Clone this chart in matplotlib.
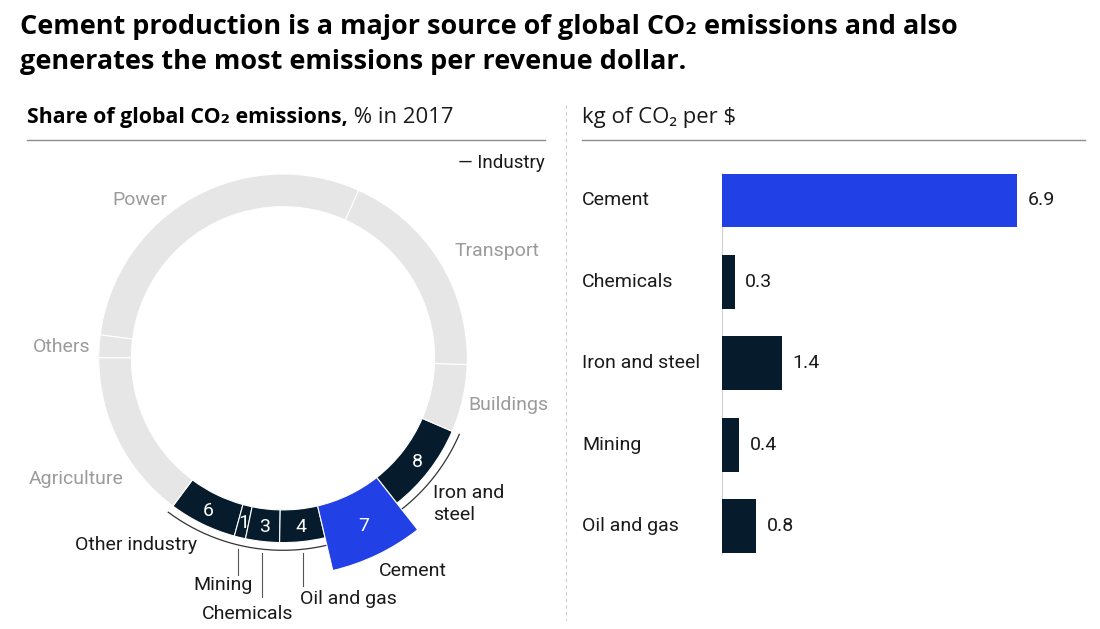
import numpy as np
import matplotlib
matplotlib.use("Agg")
import matplotlib.pyplot as plt
from matplotlib import transforms

plt.rcParams['font.family'] = ['Roboto', 'DejaVu Sans']
HEAD = ['Open Sans', 'DejaVu Sans']

# ---- data ----
industry = ["Other industry", "Mining", "Chemicals", "Oil and gas", "Cement", "Iron and steel"]
industry_share = [6, 1, 3, 4, 7, 8]
sectors = ["Buildings", "Transport", "Power", "Others", "Agriculture"]
sector_share = [6, 19, 30, 2, 15]

bar_cats = ["Cement", "Chemicals", "Iron and steel", "Mining", "Oil and gas"]
bar_vals = [6.9, 0.3, 1.4, 0.4, 0.8]

NAVY = "#061c2c"
BLUE = "#2140e6"
GREY = "#e6e6e6"
LABEL_GREY = "#9b9b9b"
INK = "#1a1a1a"

W, H = 1100, 629
fig = plt.figure(figsize=(W / 100, H / 100), dpi=100)
renderer = fig.canvas.get_renderer()


def px(x, y):
    return x / W, 1 - y / H


def fit(t, width_px):
    # scale a text so that it spans the same width as in the reference
    w = t.get_window_extent(renderer).width
    t.set_fontsize(t.get_fontsize() * width_px / w)
    return t.get_fontsize()


# ---- titles ----
t1 = fig.text(*px(20, 27), "Cement production is a major source of global CO\u2082 emissions and also",
              fontsize=18, fontweight="bold", va="center", ha="left", family=HEAD)
size = fit(t1, 938)
fig.text(*px(20, 62), "generates the most emissions per revenue dollar.",
         fontsize=size, fontweight="bold", va="center", ha="left", family=HEAD)

h1 = fig.text(*px(27, 118), "Share of global CO\u2082 emissions,", fontsize=13,
              fontweight="bold", va="center", ha="left", family=HEAD)
fit(h1, 318)
h2 = fig.text(*px(582, 118), "kg of CO\u2082 per $", fontsize=13, va="center", ha="left",
              family=HEAD, color=INK)
hsize = fit(h2, 153)

fig.add_artist(plt.Line2D([27 / W, 545 / W], [1 - 140 / H] * 2, color="#8c8c8c", lw=1))
fig.add_artist(plt.Line2D([582 / W, 1085 / W], [1 - 140 / H] * 2, color="#8c8c8c", lw=1))
fig.add_artist(plt.Line2D([566 / W] * 2, [1 - 105 / H, 1 - 620 / H], color="#cccccc",
                          lw=0.8, ls=(0, (3, 3))))

# ---- donut ----
R = 184.3
lim = 1.3
side = 2 * lim * R
cx, cy = 283, 358.3
ax = fig.add_axes([(cx - side / 2) / W, (H - cy - side / 2) / H, side / W, side / H])

ax.annotate(" % in 2017", xy=(1, 0), xycoords=h1, va="bottom", ha="left",
            fontsize=hsize, family=HEAD, color=INK)

inner = 151.6 / R
width = 1 - inner
vals = industry_share + sector_share
colors = [NAVY] * len(industry) + [GREY] * len(sectors)
colors[industry.index("Cement")] = BLUE
wedges, _ = ax.pie(vals, startangle=233.3, counterclock=True, colors=colors, radius=1,
                   wedgeprops=dict(width=width, edgecolor="white", linewidth=0.8))
ax.set_xlim(-lim, lim)
ax.set_ylim(-lim, lim)
ax.set_aspect("equal")

ci = industry.index("Cement")
cement = wedges[ci]
cement_outer = 218 / R
cement.set_radius(cement_outer)
cement.set_width(cement_outer - inner)
cement.set_zorder(5)

# industry bracket arc
a0 = wedges[0].theta1
a1 = wedges[len(industry) - 1].theta2
th = np.radians(np.linspace(a0, a1, 200))
r_arc = 192 / R
ax.plot(r_arc * np.cos(th), r_arc * np.sin(th), color="#333333", lw=0.9, zorder=3)

# values inside segments
for i, v in enumerate(industry_share):
    w = wedges[i]
    mid = np.radians((w.theta1 + w.theta2) / 2)
    rr = 1.01 if i == ci else 0.92
    ax.text(rr * np.cos(mid), rr * np.sin(mid), str(v), color="white", fontsize=14,
            ha="center", va="center", zorder=6)

# leader lines for small segments
line_end = {"Mining": 575, "Chemicals": 602, "Oil and gas": 586}
for name, yend in line_end.items():
    w = wedges[industry.index(name)]
    mid = np.radians((w.theta1 + w.theta2) / 2)
    x = r_arc * np.cos(mid)
    y0 = r_arc * np.sin(mid) - 4 / R
    y1 = (cy - yend) / R
    ax.plot([x, x], [y0, y1], color="#555555", lw=0.8)

# outer labels
grey_labels = {"Power": (112, 200), "Transport": (455, 251), "Buildings": (468, 405),
               "Others": (33, 347), "Agriculture": (29, 479)}
for name, (x, y) in grey_labels.items():
    fig.text(*px(x, y), name, color=LABEL_GREY, fontsize=14, va="center", ha="left")

dark_labels = {"Other industry": (75, 545), "Iron and\nsteel": (433, 504),
               "Cement": (379, 571), "Oil and gas": (300, 599),
               "Mining": (193, 585), "Chemicals": (202, 614)}
for name, (x, y) in dark_labels.items():
    fig.text(*px(x, y), name, color=INK, fontsize=14, va="center", ha="left",
             linespacing=1.25)

fig.text(*px(545, 163), "\u2014 Industry", color=INK, fontsize=13.5, va="center", ha="right")

# ---- bars ----
bx0, bx1 = 722, 1085
scale = 42.75
top, bottom = 159.8, 566.7
bax = fig.add_axes([bx0 / W, (H - bottom) / H, (bx1 - bx0) / W, (bottom - top) / H])
ypos = np.arange(len(bar_cats))
bar_colors = [BLUE if c == "Cement" else NAVY for c in bar_cats]
bax.barh(ypos, bar_vals, height=0.663, color=bar_colors)
bax.set_xlim(0, (bx1 - bx0) / scale)
bax.set_ylim(len(bar_cats) - 0.5, -0.5)
bax.axis("off")
bax.plot([0, 0], [-0.34, len(bar_cats) - 0.66], color="#d0d0d0", lw=0.8, zorder=0)

lbl_tr = transforms.blended_transform_factory(fig.transFigure, bax.transData)
for y, c, v in zip(ypos, bar_cats, bar_vals):
    bax.text(582 / W, y, c, transform=lbl_tr, fontsize=14, va="center", ha="left",
             color=INK)
    bax.annotate(f"{v:.1f}", xy=(v, y), xytext=(7.5, 0), textcoords="offset points",
                 va="center", ha="left", fontsize=14, color=INK)

fig.savefig("out.png", dpi=100)
